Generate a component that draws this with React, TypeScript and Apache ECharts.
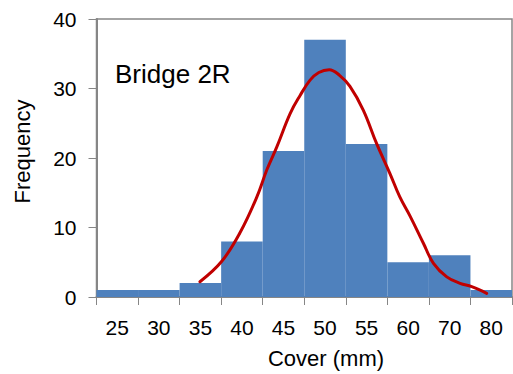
import React, { useEffect, useRef } from "react";
import * as echarts from "echarts";

const categories = ["25", "30", "35", "40", "45", "50", "55", "60", "70", "80"];
const frequency = [1, 1, 2, 8, 21, 37, 22, 5, 6, 1];
// fitted curve, x in category-position units (0..10 across the plot)
const curveX = [2.49, 3.01, 3.45, 3.86, 4.1, 4.34, 4.66, 4.9, 5.14, 5.35, 5.6, 5.85, 6.1, 6.42, 6.74, 7.06, 7.3, 7.55, 7.87, 8.11, 8.43, 8.75, 9.03, 9.39];
const curveY = [2.2, 5.1, 9.2, 14.4, 18.3, 21.6, 26.4, 29.0, 31.2, 32.3, 32.7, 31.9, 30.3, 26.9, 22.1, 17.8, 14.4, 11.6, 7.7, 4.85, 2.9, 1.97, 1.48, 0.53];
const yTicks = { min: 0, max: 40, interval: 10 };

const FONT = "'Liberation Sans', Arial, sans-serif";

export default function App() {
  const ref = useRef<HTMLDivElement>(null);
  useEffect(() => {
    document.body.style.margin = "0";
    if (!ref.current) return;
    const chart = echarts.init(ref.current, null, { renderer: "svg" });
    const axisGray = "#868686";
    chart.setOption({
      animation: false,
      grid: {
        left: 96.5,
        right: 1,
        top: 19,
        bottom: 77,
        show: true,
        borderColor: axisGray,
        borderWidth: 1.5,
      },
      xAxis: [
        {
          type: "category",
          data: categories,
          boundaryGap: true,
          axisLine: { show: true, lineStyle: { color: axisGray, width: 2 } },
          axisTick: { show: true, length: 8, lineStyle: { color: axisGray, width: 1 } },
          axisLabel: { color: "#000", fontSize: 21, fontFamily: FONT, margin: 20, interval: 0 },
          splitLine: { show: false },
        },
        {
          type: "value",
          min: 0,
          max: 10,
          show: false,
          splitLine: { show: false },
        },
      ],
      yAxis: {
        type: "value",
        min: yTicks.min,
        max: yTicks.max,
        interval: yTicks.interval,
        axisLine: { show: true, lineStyle: { color: axisGray, width: 2 } },
        axisTick: { show: true, length: 8, lineStyle: { color: axisGray, width: 1 } },
        axisLabel: { color: "#000", fontSize: 21, fontFamily: FONT, margin: 20 },
        splitLine: { show: false },
      },
      graphic: [
        {
          type: "text",
          left: 115,
          top: 61,
          style: { text: "Bridge 2R", fontSize: 26, fontFamily: FONT, fill: "#000" },
        },
        {
          type: "text",
          x: 326,
          y: 358,
          style: {
            text: "Cover (mm)",
            fontSize: 22,
            fontFamily: FONT,
            fill: "#000",
            align: "center",
            verticalAlign: "middle",
          },
        },
        {
          type: "text",
          x: 22,
          y: 151.5,
          rotation: Math.PI / 2,
          style: {
            text: "Frequency",
            fontSize: 22,
            fontFamily: FONT,
            fill: "#000",
            align: "center",
            verticalAlign: "middle",
          },
        },
      ],
      series: [
        {
          type: "bar",
          xAxisIndex: 0,
          data: frequency,
          barCategoryGap: "0%",
          barWidth: "100%",
          itemStyle: { color: "#4f81bd" },
        },
        {
          type: "line",
          xAxisIndex: 1,
          data: curveX.map((x, i) => [x, curveY[i]]),
          smooth: 0.4,
          showSymbol: false,
          symbol: "none",
          lineStyle: { color: "#c00000", width: 3, cap: "round" },
          z: 5,
        },
      ],
    });
    return () => chart.dispose();
  }, []);
  return <div ref={ref} style={{ width: 513, height: 374 }} />;
}
